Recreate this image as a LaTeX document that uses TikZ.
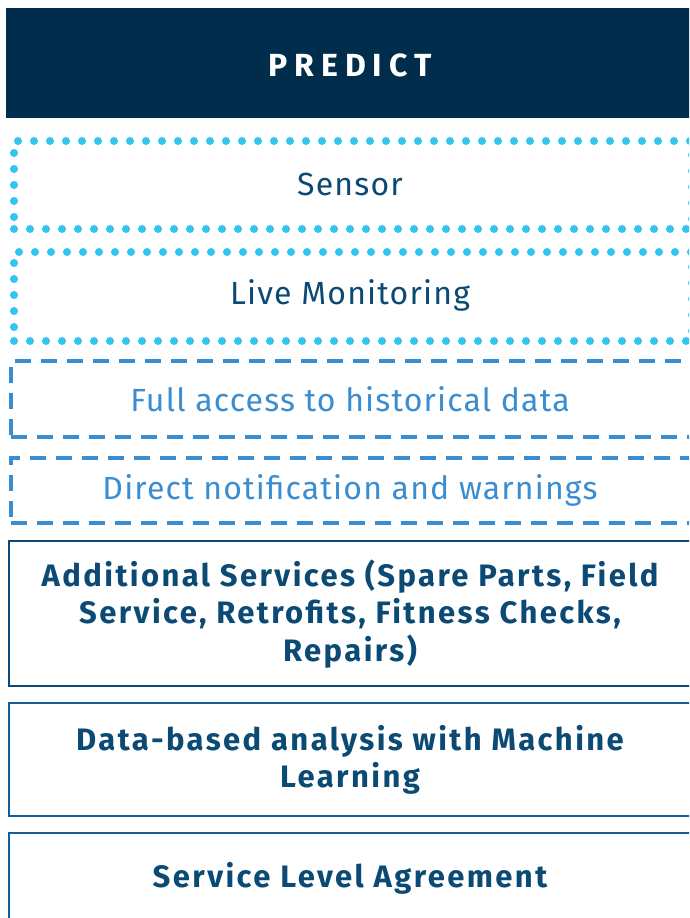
\documentclass[tikz,border=0pt]{standalone}
\usepackage{fontspec}
\setmainfont{Fira Sans}
\newfontfamily\regfont[LetterSpace=3.7]{Fira Sans}
\newfontfamily\boldfont[LetterSpace=7.8]{Fira Sans}
\newfontfamily\titlefont[LetterSpace=22]{Fira Sans}
\definecolor{darkbg}{HTML}{002D4B}
\definecolor{txtdark}{HTML}{0B4A75}
\definecolor{dotcyan}{HTML}{33C3F0}
\definecolor{dashblue}{HTML}{3A8DD0}
\definecolor{solidA}{HTML}{0B4A78}
\definecolor{solidB}{HTML}{145F98}
\tikzset{
  boxbase/.style={rectangle, inner sep=0pt, anchor=north west},
  dotbox/.style={boxbase, draw=dotcyan, line width=8pt, dash pattern=on 0pt off 16pt, line cap=round},
  dashbox/.style={boxbase, draw=dashblue, line width=4pt, dash pattern=on 16pt off 10pt},
  solidbox/.style={boxbase, line width=2.2pt, minimum width=700pt},
  lbl/.style={inner sep=0pt, align=center},
  reglbl/.style={lbl, font=\fontsize{32}{36}\regfont},
  boldlbl/.style={lbl, text=txtdark, font=\fontsize{31}{37.5}\boldfont\bfseries},
}
\begin{document}
\begin{tikzpicture}[x=1pt,y=-1pt]
\useasboundingbox (0,0) rectangle (689,918);
\clip (0,0) rectangle (689,918);
\fill[white] (0,0) rectangle (689,918);
% title
\node[boxbase, fill=darkbg, minimum width=700pt, minimum height=110pt] (predict) at (6,8) {};
\node[lbl, text=white, font=\fontsize{32}{36}\titlefont\bfseries] (predictlbl) at (350,65) {PREDICT};
% dotted boxes
\node[dotbox, minimum width=678pt, minimum height=88pt] (sensor) at (10,137) {};
\node[reglbl, text=txtdark] (sensorlbl) at (350,184) {Sensor};
\node[dotbox, minimum width=678pt, minimum height=89pt] (live) at (10,248) {};
\node[reglbl, text=txtdark] (livelbl) at (350,295) {Live Monitoring};
% dashed boxes
\node[dashbox, minimum width=700pt, minimum height=76pt] (hist) at (8.5,359) {};
\node[reglbl, text=dashblue] (histlbl) at (350,399) {Full access to historical data};
\node[dashbox, minimum width=700pt, minimum height=65pt] (notif) at (8.5,456) {};
\node[reglbl, text=dashblue] (notiflbl) at (350,490) {Direct notification and warnings};
% solid boxes
\node[solidbox, draw=solidA, minimum height=145pt] (addl) at (7.5,540) {};
\node[boldlbl] (addllbl) at (350,614) {Additional Services (Spare Parts, Field\\Service, Retrofits, Fitness Checks,\\Repairs)};
\node[solidbox, draw=solidB, minimum height=113pt] (ml) at (7.5,702) {};
\node[boldlbl] (mllbl) at (350,760) {Data-based analysis with Machine\\Learning};
\node[solidbox, draw=solidB, minimum height=100pt] (sla) at (7.5,832) {};
\node[boldlbl] (slalbl) at (350,878) {Service Level Agreement};
\end{tikzpicture}
\end{document}
